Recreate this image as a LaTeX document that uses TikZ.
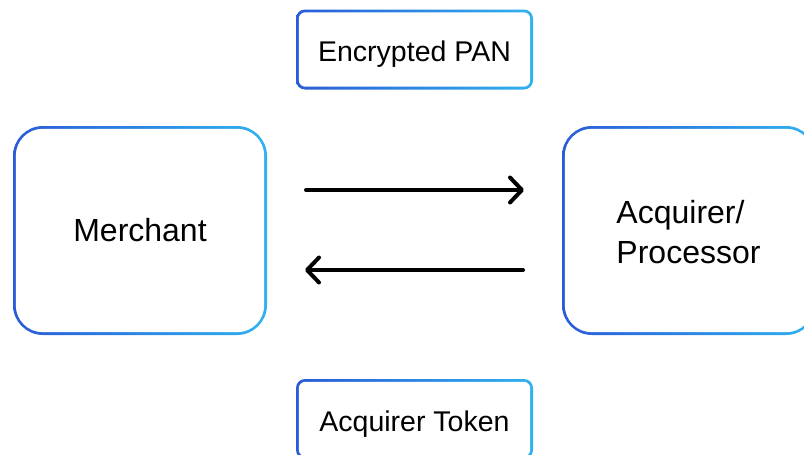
\documentclass[tikz,border=0pt]{standalone}
\usepackage{fontspec}
\setmainfont{Liberation Sans}
\usetikzlibrary{arrows.meta}
\definecolor{gA}{HTML}{2A5BD8}
\definecolor{gB}{HTML}{30B2EE}
\begin{document}
\begin{tikzpicture}[x=1pt,y=-1pt,
  gbox/.style={shape=rectangle, left color=gA, right color=gB, draw=none, inner sep=0pt},
  bigbox/.style={gbox, minimum width=254pt, minimum height=209pt, rounded corners=30pt},
  smallbox/.style={gbox, minimum width=237pt, minimum height=80pt, rounded corners=9pt},
  bigtxt/.style={font=\fontsize{32}{40}\selectfont, inner sep=0pt},
  smalltxt/.style={font=\fontsize{28.5}{32}\selectfont, inner sep=0pt, anchor=base},
  flow/.style={line width=4pt, line cap=round, -{Straight Barb[length=12pt,width=25pt,round]}}
]
\useasboundingbox (0,0) rectangle (804,455);
% Encrypted PAN
\node[smallbox] (pan) at (414.5,49.5) {};
\fill[white, rounded corners=6.5pt] ([shift={(3pt,-3pt)}]pan.north west) rectangle ([shift={(-3pt,3pt)}]pan.south east);
\node[smalltxt] (panT) at (414.5,61) {Encrypted PAN};
% Acquirer Token
\node[smallbox] (tok) at (414.5,419) {};
\fill[white, rounded corners=6.5pt] ([shift={(3pt,-3pt)}]tok.north west) rectangle ([shift={(-3pt,3pt)}]tok.south east);
\node[smalltxt] (tokT) at (414.5,431) {Acquirer Token};
% Merchant
\node[bigbox] (mer) at (140,230.5) {};
\fill[white, rounded corners=27pt] ([shift={(3pt,-3pt)}]mer.north west) rectangle ([shift={(-3pt,3pt)}]mer.south east);
\node[bigtxt] (merT) at (140,230) {Merchant};
% Acquirer/Processor
\node[bigbox] (acq) at (689,230.5) {};
\fill[white, rounded corners=27pt] ([shift={(3pt,-3pt)}]acq.north west) rectangle ([shift={(-3pt,3pt)}]acq.south east);
\node[bigtxt, align=left] (acqT) at (688.5,232) {Acquirer/\\Processor};
% arrows
\coordinate (a1s) at (306,190);
\coordinate (a1e) at (524,190);
\coordinate (a2s) at (523,270);
\coordinate (a2e) at (305,270);
\draw[flow] (a1s) -- (a1e);
\draw[flow] (a2s) -- (a2e);
\end{tikzpicture}
\end{document}
